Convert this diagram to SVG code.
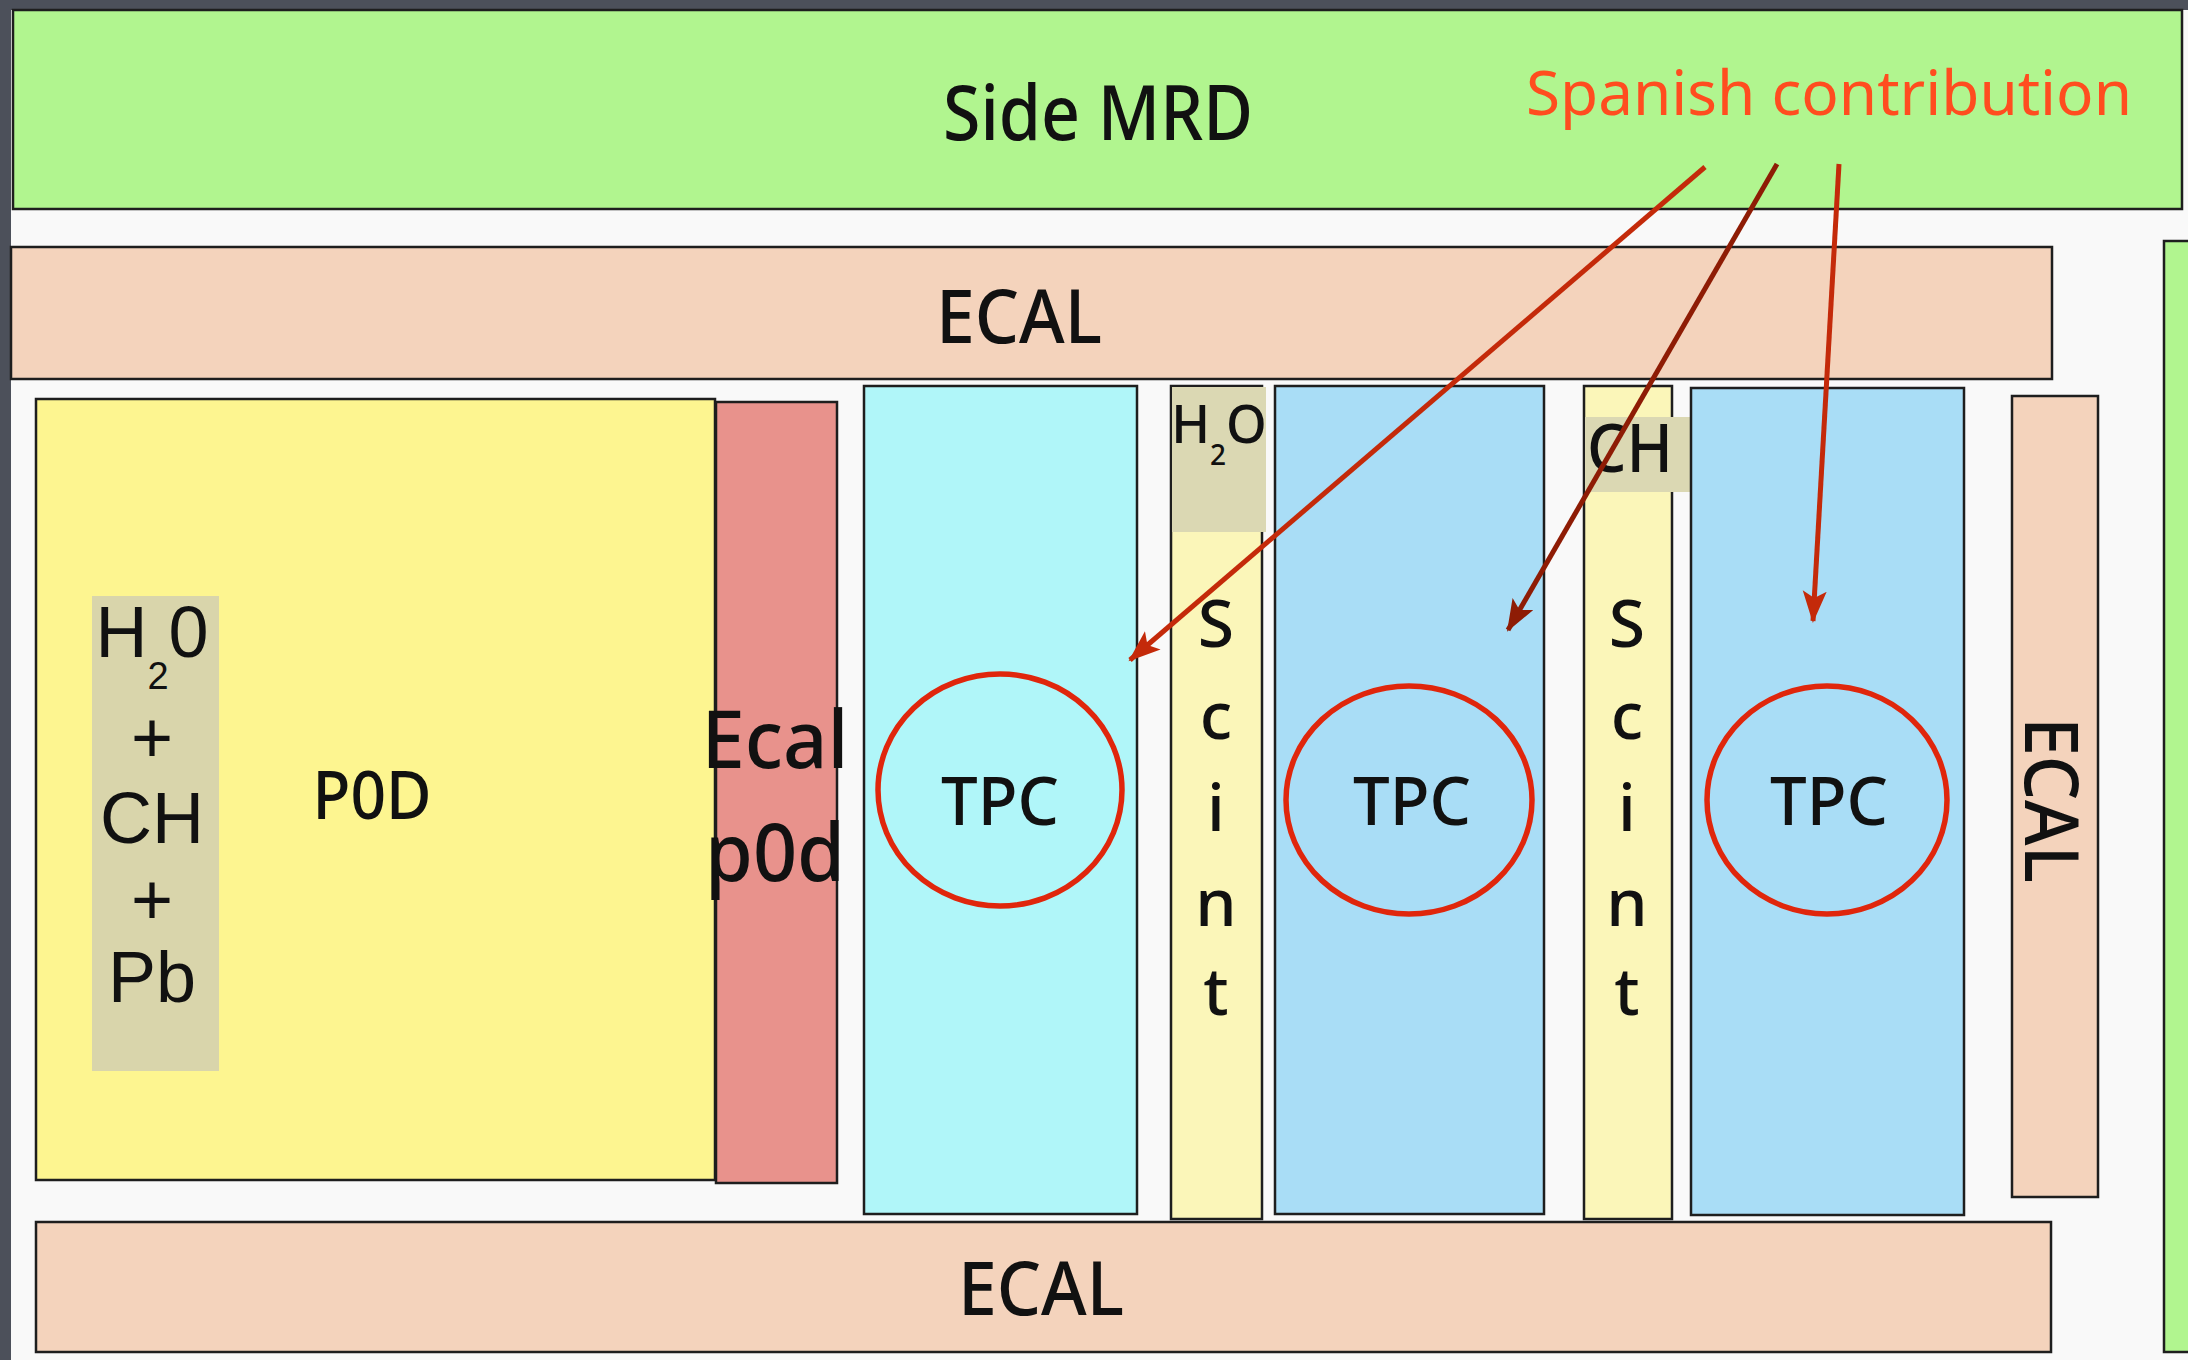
<svg xmlns="http://www.w3.org/2000/svg" width="2188" height="1360" viewBox="0 0 2188 1360">
<style>
.box{stroke:#1e1e1e;stroke-width:2.5}
.lbl{font-family:"Noto Sans","DejaVu Sans",sans-serif;fill:#111;text-anchor:middle;font-weight:500}
.ar{font-family:"Liberation Sans",Arial,sans-serif;fill:#111;text-anchor:middle}
.ring{fill:none;stroke:#e0260c;stroke-width:5.5}
.conn{fill:none;stroke-width:5}
</style>
<defs>
<marker id="headR" markerUnits="userSpaceOnUse" markerWidth="34" markerHeight="26" refX="30" refY="12" orient="auto">
<path d="M0,0 L32,12 L0,24 L7,12 Z" fill="#c42a0a"/>
</marker>
<marker id="headD" markerUnits="userSpaceOnUse" markerWidth="34" markerHeight="26" refX="30" refY="12" orient="auto">
<path d="M0,0 L32,12 L0,24 L7,12 Z" fill="#8e1c05"/>
</marker>
</defs>
<rect x="0" y="0" width="2188" height="1360" fill="#4c505a"/>
<rect x="11" y="10" width="2177" height="1350" fill="#f9f9f9"/>

<g id="side-mrd">
<rect class="box" x="13" y="10" width="2169" height="199" fill="#b1f58f"/>
<text class="lbl" x="1098" y="140" font-size="76" textLength="310" lengthAdjust="spacingAndGlyphs">Side MRD</text>
</g>
<g id="side-mrd-right">
<rect class="box" x="2164" y="241" width="40" height="1111" fill="#b1f58f"/>
</g>
<g id="ecal-top">
<rect class="box" x="11" y="247" width="2041" height="132" fill="#f4d3bc"/>
<text class="lbl" x="1019" y="343" font-size="74" textLength="166" lengthAdjust="spacingAndGlyphs">ECAL</text>
</g>
<g id="p0d">
<rect class="box" x="36" y="399" width="679" height="781" fill="#fdf590"/>
<rect x="92" y="596" width="127" height="475" fill="#d9d5ab"/>
<text class="ar" x="152" y="657" font-size="72">H<tspan font-size="38" dy="32">2</tspan><tspan dy="-32">0</tspan></text>
<text class="ar" x="152" y="762" font-size="72">+</text>
<text class="ar" x="152" y="843" font-size="72">CH</text>
<text class="ar" x="152" y="924" font-size="72">+</text>
<text class="ar" x="152" y="1002" font-size="72">Pb</text>
<text class="lbl" x="372" y="819" font-size="68" textLength="119" lengthAdjust="spacingAndGlyphs">P0D</text>
</g>
<g id="ecal-p0d">
<rect class="box" x="716" y="402" width="121" height="781" fill="#e8928c"/>
<text class="lbl" x="775" y="768" font-size="80" textLength="147" lengthAdjust="spacingAndGlyphs">Ecal</text>
<text class="lbl" x="775" y="881" font-size="80" textLength="140" lengthAdjust="spacingAndGlyphs">p0d</text>
</g>
<g id="tpc1">
<rect class="box" x="864" y="386" width="273" height="828" fill="#b0f6f9"/>
<ellipse class="ring" cx="1000" cy="790" rx="122" ry="116"/>
<text class="lbl" x="1000" y="825" font-size="68" textLength="118" lengthAdjust="spacingAndGlyphs">TPC</text>
</g>
<g id="scint1">
<rect class="box" x="1171" y="386" width="91" height="833" fill="#fbf6b9"/>
<rect x="1172" y="387" width="94" height="145" fill="#dbd8b3"/>
<text class="lbl" x="1219" y="443" font-size="52" font-weight="400">H<tspan font-size="28" dy="22">2</tspan><tspan dy="-22">O</tspan></text>
<text class="lbl" x="1216" y="647" font-size="66">S</text>
<text class="lbl" x="1216" y="739" font-size="66">c</text>
<text class="lbl" x="1216" y="831" font-size="66">i</text>
<text class="lbl" x="1216" y="926" font-size="66">n</text>
<text class="lbl" x="1216" y="1015" font-size="66">t</text>
</g>
<g id="tpc2">
<rect class="box" x="1275" y="386" width="269" height="828" fill="#a9ddf6"/>
<ellipse class="ring" cx="1409" cy="800" rx="123" ry="114"/>
<text class="lbl" x="1412" y="825" font-size="68" textLength="118" lengthAdjust="spacingAndGlyphs">TPC</text>
</g>
<g id="scint2">
<rect class="box" x="1584" y="386" width="88" height="833" fill="#fbf6b9"/>
<rect x="1585" y="417" width="105" height="75" fill="#dbd8b3"/>
<text class="lbl" x="1630" y="472" font-size="68" textLength="86" lengthAdjust="spacingAndGlyphs">CH</text>
<text class="lbl" x="1627" y="647" font-size="66">S</text>
<text class="lbl" x="1627" y="739" font-size="66">c</text>
<text class="lbl" x="1627" y="831" font-size="66">i</text>
<text class="lbl" x="1627" y="926" font-size="66">n</text>
<text class="lbl" x="1627" y="1015" font-size="66">t</text>
</g>
<g id="tpc3">
<rect class="box" x="1691" y="388" width="273" height="827" fill="#a9ddf6"/>
<ellipse class="ring" cx="1827" cy="800" rx="120" ry="114"/>
<text class="lbl" x="1829" y="825" font-size="68" textLength="118" lengthAdjust="spacingAndGlyphs">TPC</text>
</g>
<g id="ecal-right">
<rect class="box" x="2012" y="396" width="86" height="801" fill="#f4d3bc"/>
<text class="lbl" x="2051" y="826" font-size="74" textLength="166" lengthAdjust="spacingAndGlyphs" transform="rotate(90 2051 800)">ECAL</text>
</g>
<g id="ecal-bottom">
<rect class="box" x="36" y="1222" width="2015" height="130" fill="#f4d3bc"/>
<text class="lbl" x="1041" y="1315" font-size="74" textLength="166" lengthAdjust="spacingAndGlyphs">ECAL</text>
</g>
<g id="spanish-contribution">
<text x="1526" y="115" font-family="Noto Sans, DejaVu Sans, sans-serif" font-size="62" font-weight="400" fill="#ff4d1f" textLength="606" lengthAdjust="spacingAndGlyphs">Spanish contribution</text>
</g>

<g id="connectors">
<line class="conn" x1="1705" y1="167" x2="1130" y2="660" stroke="#c42a0a" marker-end="url(#headR)"/>
<line class="conn" x1="1777" y1="164" x2="1508" y2="630" stroke="#8e1c05" marker-end="url(#headD)"/>
<line class="conn" x1="1839" y1="164" x2="1813" y2="621" stroke="#c42a0a" marker-end="url(#headR)"/>
</g>
</svg>
